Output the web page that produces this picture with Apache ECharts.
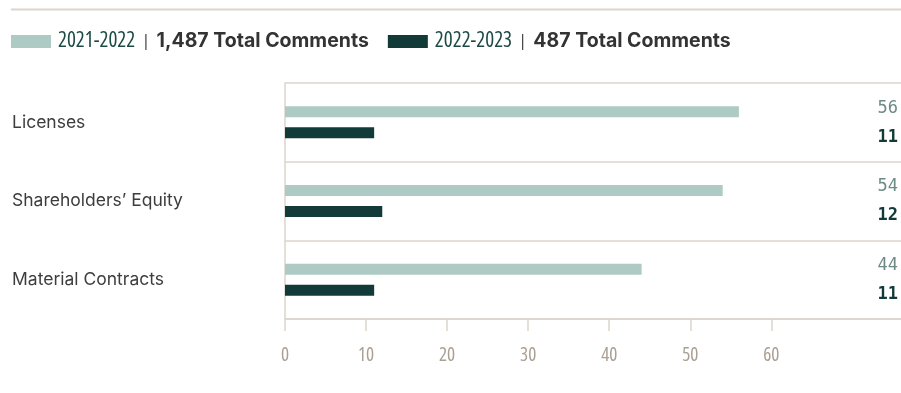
<!DOCTYPE html>
<html>
<head>
<meta charset="utf-8">
<script src="https://cdn.jsdelivr.net/npm/echarts@6/dist/echarts.min.js"></script>
<style>
  html, body { margin: 0; padding: 0; background: #ffffff; }
  #chart { width: 901px; height: 393px; }
</style>
</head>
<body>
<div id="chart"></div>
<script>
// Comment topics, top to bottom
const categories = ['Licenses', "Shareholders\u2019 Equity", 'Material Contracts'];
// Comment counts per topic for each review year
const values2122 = [56, 54, 44];
const values2223 = [11, 12, 11];
// Legend entries
const seriesNames = ['2021-2022', '2022-2023'];
const totalComments = ['1,487 Total Comments', '487 Total Comments'];
// Value axis tick labels
const tickValues = [0, 10, 20, 30, 40, 50, 60];

const LIGHT = '#adcbc4';
const DARK = '#123a38';
const RULE = '#dcd5cb';
const BODY_FONT = 'Inter, Roboto, sans-serif';
const NARROW_FONT = '"Open Sans", sans-serif';
const VALUE_FONT = '"DejaVu Sans Mono", monospace';

const chart = echarts.init(document.getElementById('chart'), null, { renderer: 'canvas' });

// Value labels sit flush against the right edge of the plot
function rightEdgeLabel(dy) {
  return function () {
    return { x: chart.getWidth() - 3, align: 'right', dy: dy };
  };
}

chart.setOption({
  animation: false,
  graphic: [{
    type: 'line',
    shape: { x1: 11, y1: 9.5, x2: 901, y2: 9.5 },
    style: { stroke: RULE, lineWidth: 2 },
    silent: true
  }],
  legend: {
    left: 11,
    top: 31,
    padding: 0,
    itemWidth: 40,
    itemHeight: 13,
    itemGap: 19,
    icon: 'rect',
    selectedMode: false,
    data: seriesNames,
    formatter: function (name) {
      const i = seriesNames.indexOf(name);
      return '{y|' + name + '}{s||}{t|' + totalComments[i] + '}';
    },
    textStyle: {
      rich: {
        y: { fontFamily: NARROW_FONT, fontStyle: 'condensed', fontWeight: 500, fontSize: 21, color: '#1d4a45', padding: [0, 0, 0, 2] },
        s: { fontFamily: NARROW_FONT, fontSize: 17, color: '#3a3a3a', padding: [0, 6, 0, 6] },
        t: { fontFamily: BODY_FONT, fontSize: 19.5, fontWeight: 'bold', color: '#333333' }
      }
    }
  },
  grid: { left: 285, right: 0, top: 83, bottom: 74, containLabel: false },
  xAxis: {
    type: 'value',
    min: 0,
    max: 76,
    axisLine: { show: true, lineStyle: { color: RULE, width: 1.5 } },
    axisTick: { show: true, length: 12, customValues: tickValues, lineStyle: { color: RULE, width: 1.5 } },
    axisLabel: {
      customValues: tickValues,
      margin: 27,
      fontFamily: NARROW_FONT,
      fontStyle: 'condensed',
      fontWeight: 500,
      fontSize: 19,
      color: '#a99f93'
    },
    splitLine: { show: false }
  },
  yAxis: {
    type: 'category',
    inverse: true,
    data: categories,
    axisLine: { show: true, lineStyle: { color: RULE, width: 1.5 } },
    axisTick: { show: false },
    splitLine: { show: true, lineStyle: { color: RULE, width: 1.5 } },
    axisLabel: {
      align: 'left',
      margin: 273,
      fontFamily: BODY_FONT,
      fontSize: 17.5,
      color: '#3d3d3d'
    }
  },
  series: [
    {
      name: seriesNames[0],
      type: 'bar',
      data: values2122,
      barWidth: 11,
      barGap: '91%',
      itemStyle: { color: LIGHT },
      label: {
        show: true,
        position: 'right',
        fontFamily: VALUE_FONT,
        fontSize: 17,
        color: '#6d8b84'
      },
      labelLayout: rightEdgeLabel(-12)
    },
    {
      name: seriesNames[1],
      type: 'bar',
      data: values2223,
      barWidth: 11,
      itemStyle: { color: DARK },
      label: {
        show: true,
        position: 'right',
        fontFamily: VALUE_FONT,
        fontSize: 17,
        fontWeight: 'bold',
        color: DARK
      },
      labelLayout: rightEdgeLabel(-4)
    }
  ]
});
</script>
</body>
</html>
